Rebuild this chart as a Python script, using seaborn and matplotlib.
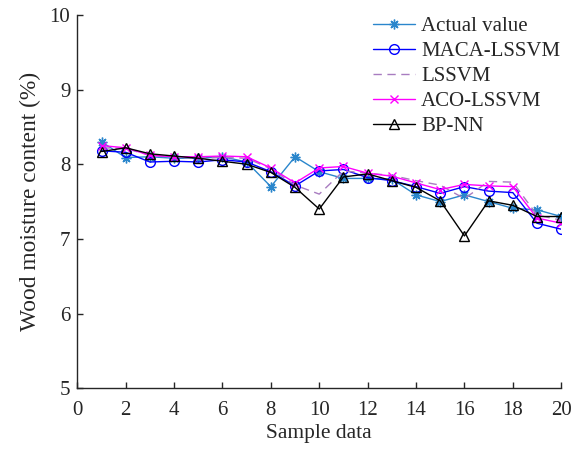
import numpy as np
import pandas as pd
import matplotlib
matplotlib.use("Agg")
import matplotlib.pyplot as plt
import seaborn as sns

# Sample index and model outputs (wood moisture content, %)
samples = list(range(1, 21))
actual = [8.30, 8.09, 8.10, 8.08, 8.08, 8.10, 8.03, 7.70, 8.10, 7.90,
          7.81, 7.81, 7.80, 7.59, 7.50, 7.59, 7.50, 7.41, 7.39, 7.30]
maca_lssvm = [8.18, 8.16, 8.03, 8.04, 8.03, 8.06, 8.03, 7.90, 7.71, 7.91,
              7.93, 7.82, 7.78, 7.70, 7.61, 7.70, 7.64, 7.62, 7.21, 7.13]
lssvm = [8.22, 8.21, 8.12, 8.09, 8.08, 8.09, 8.08, 7.94, 7.72, 7.60,
         7.91, 7.88, 7.85, 7.78, 7.72, 7.54, 7.77, 7.76, 7.32, 7.25]
aco_lssvm = [8.25, 8.22, 8.12, 8.10, 8.10, 8.11, 8.10, 7.95, 7.75, 7.95,
             7.97, 7.88, 7.84, 7.75, 7.66, 7.73, 7.71, 7.70, 7.28, 7.21]
bp_nn = [8.17, 8.22, 8.14, 8.11, 8.08, 8.04, 8.00, 7.89, 7.69, 7.40,
         7.83, 7.87, 7.78, 7.69, 7.51, 7.04, 7.51, 7.45, 7.30, 7.30]

series_names = ["Actual value", "MACA-LSSVM", "LSSVM", "ACO-LSSVM", "BP-NN"]
series_values = [actual, maca_lssvm, lssvm, aco_lssvm, bp_nn]

df = pd.DataFrame({
    "sample": np.tile(samples, len(series_names)),
    "value": np.concatenate(series_values),
    "model": np.repeat(series_names, len(samples)),
})

sns.set_style("ticks")
plt.rcParams["font.family"] = ["Liberation Serif", "DejaVu Serif"]

styles = {
    "Actual value": dict(color="#2a86cc", marker=(8, 2, 0), ms=7, ls="-"),
    "MACA-LSSVM": dict(color="#0000ff", marker="o", ms=7, ls="-"),
    "LSSVM": dict(color="#a87cc0", marker=None, ms=0, ls=(0, (6, 4))),
    "ACO-LSSVM": dict(color="#ff00ff", marker="x", ms=6, ls="-"),
    "BP-NN": dict(color="#000000", marker="^", ms=7, ls="-"),
}

fig = plt.figure(figsize=(5.83, 4.49), dpi=100)
ax = fig.add_axes([0.1326, 0.1352, 0.830, 0.8317])

for name in series_names:
    st = styles[name]
    sub = df[df["model"] == name]
    sns.lineplot(data=sub, x="sample", y="value", ax=ax, label=name,
                 color=st["color"], linestyle=st["ls"], linewidth=1.0,
                 marker=st["marker"], markersize=st["ms"],
                 markerfacecolor="none", markeredgecolor=st["color"],
                 markeredgewidth=1.0)

text_color = "#262626"
ax.set_xlim(0, 20)
ax.set_ylim(5, 10)
ax.set_xticks(range(0, 21, 2))
ax.set_yticks(range(5, 11))
ax.tick_params(direction="in", length=4, width=1, labelsize=15, colors=text_color)
ax.tick_params(axis="x", pad=9)
ax.tick_params(axis="y", pad=5)
for side in ("top", "right"):
    ax.spines[side].set_visible(False)
for side in ("left", "bottom"):
    ax.spines[side].set_linewidth(1.0)
    ax.spines[side].set_color(text_color)

ax.set_xlabel("Sample data", fontsize=15.4, labelpad=3, color=text_color)
ax.set_ylabel("Wood moisture content (%)", fontsize=16.8, labelpad=6, color=text_color)

leg = ax.legend(loc="upper right", bbox_to_anchor=(0.975, 0.981),
                bbox_transform=fig.transFigure, frameon=False,
                fontsize=15, handlelength=2.0, handletextpad=0.3,
                labelspacing=0.255, borderaxespad=0.0)
for t in leg.get_texts():
    t.set_color(text_color)

fig.savefig("out.png", dpi=100)
